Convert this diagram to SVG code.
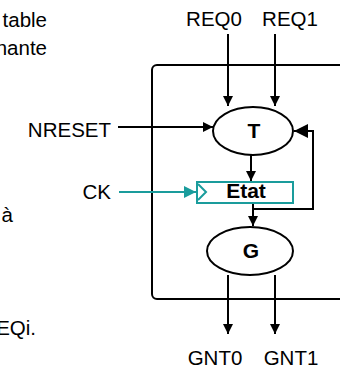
<svg xmlns="http://www.w3.org/2000/svg" width="340" height="368" viewBox="0 0 340 368">
<defs>
<style>
text{font-family:"Liberation Sans",Arial,sans-serif;font-size:20.5px;fill:#000}
.b{font-weight:bold;font-size:21px}
.k{stroke:#000;stroke-width:2;fill:none}
.t{stroke:#1a9c9c;stroke-width:2;fill:none}
</style>
<marker id="ah" viewBox="0 0 10 10" refX="10" refY="5" markerWidth="10" markerHeight="10" markerUnits="userSpaceOnUse" orient="auto"><path d="M0,0 L10,5 L0,10 Z" fill="#000"/></marker>
<marker id="ahb" viewBox="0 0 10 10" refX="10" refY="5" markerWidth="14" markerHeight="14" markerUnits="userSpaceOnUse" orient="auto"><path d="M0,0 L10,5 L0,10 Z" fill="#000"/></marker>
<marker id="aht" viewBox="0 0 10 10" refX="10" refY="5" markerWidth="12" markerHeight="12" markerUnits="userSpaceOnUse" orient="auto"><path d="M0,0 L10,5 L0,10 Z" fill="#1a9c9c"/></marker>
</defs>
<rect width="340" height="368" fill="#fff"/>
<g id="text-left">
<text x="47" y="27" text-anchor="end">table</text>
<text x="47" y="55" text-anchor="end">nante</text>
<text x="13" y="222" text-anchor="end">à</text>
<text x="36" y="335" text-anchor="end">EQi.</text>
</g>
<g id="box"><rect class="k" x="152" y="65" width="200" height="234" rx="5"/></g>
<g id="connectors">
<line class="k" x1="228" y1="34" x2="228" y2="106" marker-end="url(#ah)"/>
<line class="k" x1="275" y1="34" x2="275" y2="106" marker-end="url(#ah)"/>
<line class="k" x1="118" y1="127" x2="213" y2="127" marker-end="url(#ah)"/>
<line class="t" x1="119" y1="192" x2="196" y2="192" marker-end="url(#aht)"/>
<line class="k" x1="251" y1="155" x2="251" y2="181" marker-end="url(#ah)"/>
<polyline class="k" points="253,203 253,209 313,209 313,131 294,131" marker-end="url(#ahb)"/>
<line class="k" x1="253" y1="209" x2="253" y2="226" marker-end="url(#ah)"/>
<line class="k" x1="228" y1="275" x2="228" y2="334" marker-end="url(#ah)"/>
<line class="k" x1="275" y1="275" x2="275" y2="334" marker-end="url(#ah)"/>
</g>
<g id="REQ0"><text x="214" y="26" text-anchor="middle">REQ0</text></g>
<g id="REQ1"><text x="290" y="26" text-anchor="middle">REQ1</text></g>
<g id="NRESET"><text x="111" y="137" text-anchor="end">NRESET</text></g>
<g id="CK"><text x="111" y="199" text-anchor="end">CK</text></g>
<g id="T"><ellipse class="k" cx="253" cy="131" rx="40" ry="24"/><text class="b" x="254" y="138" text-anchor="middle">T</text></g>
<g id="Etat"><rect class="t" x="197" y="182" width="96" height="21"/><polyline class="t" points="198,184 206,192 198,200"/><text class="b" x="246" y="198" text-anchor="middle">Etat</text></g>
<g id="G"><ellipse class="k" cx="250" cy="251" rx="43" ry="24"/><text class="b" x="251" y="258" text-anchor="middle">G</text></g>
<g id="GNT0"><text x="215" y="365" text-anchor="middle">GNT0</text></g>
<g id="GNT1"><text x="291" y="365" text-anchor="middle">GNT1</text></g>
</svg>
